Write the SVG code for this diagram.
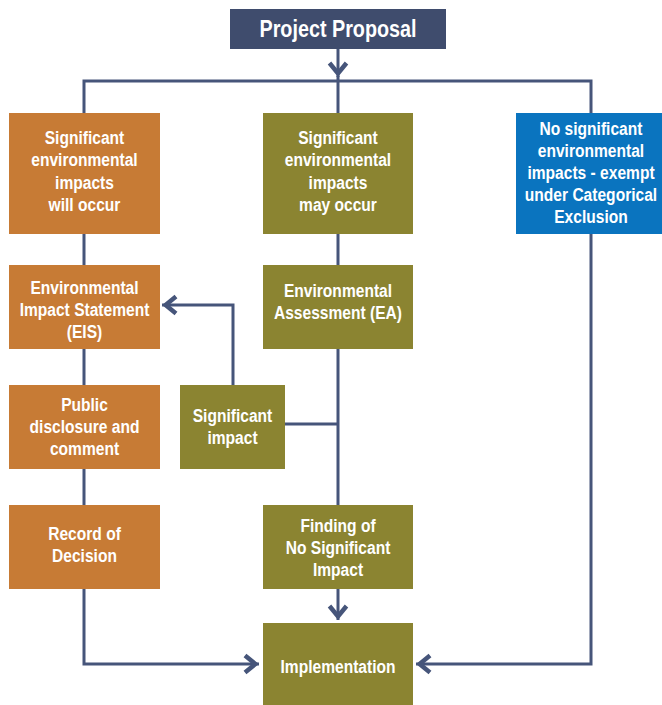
<svg xmlns="http://www.w3.org/2000/svg" width="662" height="705" viewBox="0 0 662 705">
<style>
.bg{fill:#ffffff}
.orange{fill:#c77b35}
.olive{fill:#8b8431}
.blue{fill:#0a74bf}
.navy{fill:#3f4c6d}
.t{font-family:"Liberation Sans",Arial,sans-serif;font-weight:bold;font-size:19px;fill:#ffffff;text-anchor:middle;transform-box:fill-box;transform-origin:center;transform:scaleX(0.82)}
.title{font-size:23px;transform:scaleX(0.86)}
.c{fill:none;stroke:#46557a;stroke-width:3}
.ah{fill:none;stroke:#46557a;stroke-width:4.5;stroke-linejoin:miter;stroke-miterlimit:10}
</style>
<defs>
<marker id="arr" markerUnits="userSpaceOnUse" viewBox="-18 -12 20 24" markerWidth="20" markerHeight="24" refX="0" refY="0" orient="auto">
<path class="ah" d="M-14,-8.5 L-3.6,0 L-14,8.5"/>
</marker>
</defs>
<rect class="bg" x="0" y="0" width="662" height="705"/>
<g id="connectors">
<path class="c" d="M338,49 V77" marker-end="url(#arr)"/>
<path class="c" d="M338,76 V113"/>
<path class="c" d="M84,113 V81 H591 V113"/>
<path class="c" d="M84,234 V265 M84,349 V385 M84,469 V505"/>
<path class="c" d="M84,589 V664 H259" marker-end="url(#arr)"/>
<path class="c" d="M338,234 V265 M338,349 V505"/>
<path class="c" d="M338,589 V620" marker-end="url(#arr)"/>
<path class="c" d="M285,424 H338"/>
<path class="c" d="M233,385 V305 H162" marker-end="url(#arr)"/>
<path class="c" d="M591,234 V664 H416" marker-end="url(#arr)"/>
</g>
<g id="project-proposal">
<rect class="navy" x="230" y="9" width="216" height="40"/>
<text class="t title" x="338" y="37">Project Proposal</text>
</g>
<g id="will-occur">
<rect class="orange" x="9" y="113" width="151" height="121"/>
<text class="t" x="84.5"><tspan x="84.5" y="144">Significant</tspan><tspan x="84.5" y="166.5">environmental</tspan><tspan x="84.5" y="189">impacts</tspan><tspan x="84.5" y="211.5">will occur</tspan></text>
</g>
<g id="may-occur">
<rect class="olive" x="263" y="113" width="150" height="121"/>
<text class="t" x="338"><tspan x="338" y="144">Significant</tspan><tspan x="338" y="166.5">environmental</tspan><tspan x="338" y="189">impacts</tspan><tspan x="338" y="211.5">may occur</tspan></text>
</g>
<g id="no-significant">
<rect class="blue" x="516" y="113" width="146" height="121"/>
<text class="t" x="591"><tspan x="591" y="135">No significant</tspan><tspan x="591" y="157">environmental</tspan><tspan x="591" y="179">impacts - exempt</tspan><tspan x="591" y="201">under Categorical</tspan><tspan x="591" y="223">Exclusion</tspan></text>
</g>
<g id="eis">
<rect class="orange" x="9" y="265" width="151" height="84"/>
<text class="t" x="84.5"><tspan x="84.5" y="294">Environmental</tspan><tspan x="84.5" y="316">Impact Statement</tspan><tspan x="84.5" y="338">(EIS)</tspan></text>
</g>
<g id="ea">
<rect class="olive" x="263" y="265" width="150" height="84"/>
<text class="t" x="338"><tspan x="338" y="297">Environmental</tspan><tspan x="338" y="319">Assessment (EA)</tspan></text>
</g>
<g id="public">
<rect class="orange" x="9" y="385" width="151" height="84"/>
<text class="t" x="84.5"><tspan x="84.5" y="411">Public</tspan><tspan x="84.5" y="433">disclosure and</tspan><tspan x="84.5" y="455">comment</tspan></text>
</g>
<g id="significant-impact">
<rect class="olive" x="180" y="385" width="105" height="84"/>
<text class="t" x="232.5"><tspan x="232.5" y="422">Significant</tspan><tspan x="232.5" y="444">impact</tspan></text>
</g>
<g id="record">
<rect class="orange" x="9" y="505" width="151" height="84"/>
<text class="t" x="84.5"><tspan x="84.5" y="540">Record of</tspan><tspan x="84.5" y="562">Decision</tspan></text>
</g>
<g id="fonsi">
<rect class="olive" x="263" y="505" width="150" height="84"/>
<text class="t" x="338"><tspan x="338" y="532">Finding of</tspan><tspan x="338" y="554">No Significant</tspan><tspan x="338" y="576">Impact</tspan></text>
</g>
<g id="implementation">
<rect class="olive" x="263" y="623" width="150" height="82"/>
<text class="t" x="338" y="673">Implementation</text>
</g>
</svg>
